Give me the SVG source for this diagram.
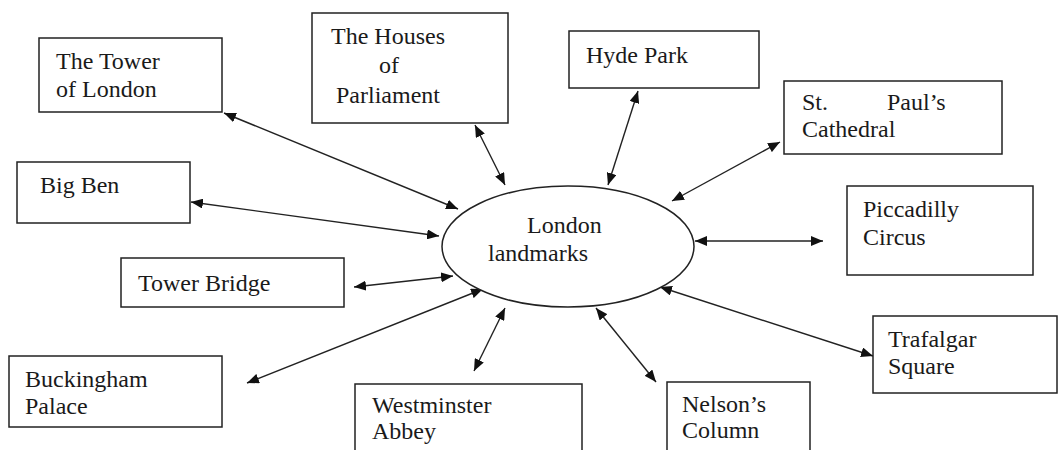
<svg xmlns="http://www.w3.org/2000/svg" width="1062" height="450" viewBox="0 0 1062 450">
<style>
.box{fill:#fff;stroke:#222;stroke-width:1.5}
.t{font-family:'Liberation Serif','DejaVu Serif','Times New Roman',Times,serif;font-size:24px;fill:#1a1a1a}
.c{stroke:#222;stroke-width:1.4;fill:none;marker-start:url(#ah);marker-end:url(#ah)}
</style>
<defs>
<marker id="ah" viewBox="0 0 12 10" refX="12" refY="5" markerWidth="12" markerHeight="10" markerUnits="userSpaceOnUse" orient="auto-start-reverse">
<path d="M0,0 L12,5 L0,10 z" fill="#111"/>
</marker>
</defs>
<rect width="1062" height="450" fill="#fff"/>
<g id="connectors">
<line class="c" x1="224" y1="113" x2="458" y2="209"/>
<line class="c" x1="191" y1="202" x2="439" y2="236"/>
<line class="c" x1="354" y1="287" x2="453" y2="276"/>
<line class="c" x1="247" y1="383" x2="483" y2="289"/>
<line class="c" x1="474" y1="371" x2="505" y2="308"/>
<line class="c" x1="596" y1="308" x2="656" y2="382"/>
<line class="c" x1="660" y1="287" x2="873" y2="356"/>
<line class="c" x1="695" y1="241" x2="823" y2="241"/>
<line class="c" x1="672" y1="201" x2="780" y2="142"/>
<line class="c" x1="608" y1="185" x2="638" y2="91"/>
<line class="c" x1="505" y1="185" x2="475" y2="125"/>
</g>
<g id="center">
<ellipse cx="568" cy="246.5" rx="126" ry="60.5" fill="#fff" stroke="#222" stroke-width="1.5"/>
<text class="t" x="527" y="233" font-family="Liberation Serif, serif">London</text>
<text class="t" x="488" y="261" font-family="Liberation Serif, serif">landmarks</text>
</g>
<g id="tower-of-london">
<rect class="box" x="39" y="38" width="183" height="74"/>
<text class="t" x="56" y="69">The Tower</text>
<text class="t" x="56" y="97">of London</text>
</g>
<g id="houses-of-parliament">
<rect class="box" x="312" y="13" width="196" height="110"/>
<text class="t" x="331" y="44">The Houses</text>
<text class="t" x="379" y="73">of</text>
<text class="t" x="336" y="103">Parliament</text>
</g>
<g id="hyde-park">
<rect class="box" x="569" y="31" width="190" height="57"/>
<text class="t" x="586" y="63">Hyde Park</text>
</g>
<g id="st-pauls">
<rect class="box" x="784" y="81" width="218" height="73"/>
<text class="t" x="802" y="110">St.</text>
<text class="t" x="887" y="110">Paul’s</text>
<text class="t" x="802" y="137">Cathedral</text>
</g>
<g id="piccadilly">
<rect class="box" x="847" y="186" width="186" height="89"/>
<text class="t" x="863" y="217">Piccadilly</text>
<text class="t" x="863" y="245">Circus</text>
</g>
<g id="trafalgar">
<rect class="box" x="873" y="316" width="184" height="77"/>
<text class="t" x="888" y="347">Trafalgar</text>
<text class="t" x="888" y="374">Square</text>
</g>
<g id="nelson">
<rect class="box" x="667" y="382" width="143" height="80"/>
<text class="t" x="682" y="412">Nelson’s</text>
<text class="t" x="682" y="438">Column</text>
</g>
<g id="westminster">
<rect class="box" x="355" y="384" width="227" height="80"/>
<text class="t" x="372" y="413">Westminster</text>
<text class="t" x="372" y="439">Abbey</text>
</g>
<g id="buckingham">
<rect class="box" x="9" y="356" width="213" height="71"/>
<text class="t" x="25" y="387">Buckingham</text>
<text class="t" x="25" y="414">Palace</text>
</g>
<g id="tower-bridge">
<rect class="box" x="121" y="258" width="223" height="49"/>
<text class="t" x="138" y="291">Tower Bridge</text>
</g>
<g id="big-ben">
<rect class="box" x="17" y="162" width="173" height="61"/>
<text class="t" x="40" y="193">Big Ben</text>
</g>
</svg>
